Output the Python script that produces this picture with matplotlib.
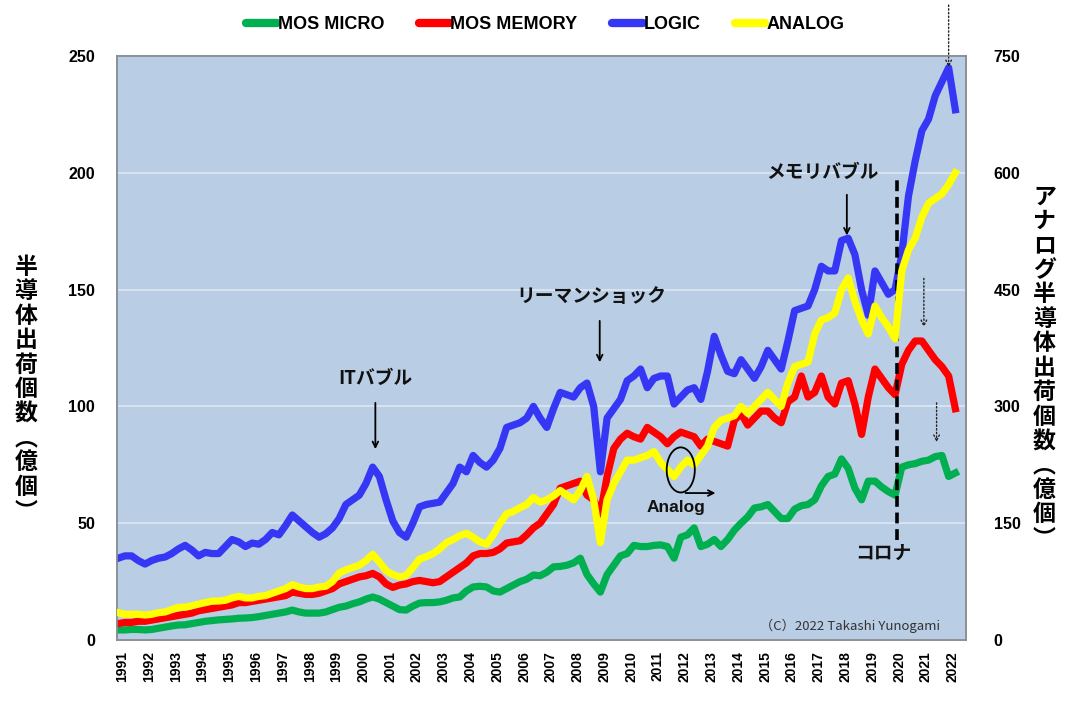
import matplotlib
matplotlib.use("Agg")
import matplotlib.pyplot as plt
from matplotlib.patches import Ellipse
from matplotlib.lines import Line2D

plt.rcParams['font.family'] = ['Liberation Sans', 'Noto Sans CJK JP', 'DejaVu Sans']

years = list(range(1991, 2023))
quarters = [f"{y}Q{q}" for y in years for q in range(1, 5)][:126]

logic = [35, 36, 36, 34, 32.5, 34, 35, 35.5, 37, 39, 40.5, 38.5, 36, 37.5, 37, 37,
         40, 43, 42, 40, 41.5, 41, 43, 46, 45, 49, 53.5, 51, 48.5, 46, 44, 45.5,
         48, 52, 58, 60, 62, 67, 74, 70, 60, 51, 46, 44, 50, 57, 58, 58.5,
         59, 63, 67, 74, 72, 79, 76, 74, 77, 82, 91, 92, 93, 95, 100, 95,
         91, 99, 106, 105, 104, 108, 110, 100, 72, 95, 99, 103, 111, 113, 116, 108,
         112, 113, 113, 101, 104, 107, 108, 103, 115, 130, 122, 115, 114, 120, 116, 112,
         117, 124, 120, 116, 128, 141, 142, 143, 150, 160, 158, 158, 171, 172, 165, 150,
         139, 158, 153, 148, 150, 165, 190, 205, 218, 223, 233, 239, 245, 227]

memory = [7, 7.5, 7.5, 8, 8, 8.5, 9, 9.5, 10, 10.5, 11, 11.5, 12.5, 13, 13.5, 14,
          14.5, 15, 16, 16, 16.5, 17, 17.5, 18, 18.5, 19, 20.5, 20, 19.5, 19.5, 20, 21,
          22, 24, 25, 26, 27, 27.5, 28.5, 27, 24, 22.5, 23.5, 24, 25, 25.5, 25, 24.5,
          25, 27, 29, 31, 33, 36, 37, 37, 37.5, 39, 41.5, 42, 42.5, 45, 48, 50,
          54, 58, 65, 66, 67, 68, 62, 60, 54, 70, 82, 86, 88.5, 87, 86, 91,
          89, 87, 84, 87, 89, 88, 87, 83, 86, 85, 84, 83, 94, 97, 92, 95,
          98, 98, 95, 93, 102, 104, 113, 104, 106, 113, 104, 101, 110, 111, 101, 88,
          104, 116, 112, 108, 105, 118, 124, 128, 128, 124, 120, 117, 113, 99]

micro = [4.3, 4.3, 4.5, 4.5, 4.3, 4.5, 5, 5.5, 6, 6.4, 6.5, 7, 7.5, 8, 8.3, 8.6,
         8.8, 9, 9.3, 9.4, 9.6, 10, 10.5, 11, 11.5, 12, 12.8, 12, 11.5, 11.5, 11.5, 12,
         13, 14, 14.5, 15.5, 16.3, 17.5, 18.4, 17.5, 16, 14.5, 13, 12.8, 14.5, 15.8, 16, 16,
         16.3, 17, 18, 18.4, 21, 22.7, 23, 22.7, 21, 20.5, 22, 23.5, 25, 26, 27.8, 27.5,
         29, 31.3, 31.5, 32, 33, 35, 28, 24, 20.5, 28, 32, 36, 37, 40.5, 40, 40,
         40.5, 40.7, 40, 35, 44, 45, 48, 40, 41, 43, 40, 43, 47, 50, 52.7, 56.5,
         57, 58, 55, 52, 52, 56, 57.5, 58, 60, 66, 70, 71, 77.5, 73.5, 65, 60,
         68, 68, 65.5, 63.5, 62, 74, 75, 75.5, 76.5, 77, 78.5, 79, 70, 71.5]

analog = [35, 33, 33, 33, 32, 33, 35, 36, 39, 42, 42, 44, 46, 48, 50, 50,
          51, 54, 56, 54, 54, 56, 57, 60, 63, 66, 71, 68, 66, 66, 68, 69,
          75, 86, 90, 93, 96, 102, 110, 100, 89, 84, 81, 83, 93, 104, 107, 111,
          117, 125, 129, 134, 137, 132, 126, 123, 135, 150, 162, 165, 170, 174, 183, 177,
          180, 185, 192, 186, 180, 192, 210, 180, 125, 180, 201, 216, 231, 231, 234, 237,
          242, 228, 219, 210, 222, 231, 225, 237, 249, 273, 282, 285, 288, 300, 291, 300,
          309, 318, 309, 300, 330, 351, 354, 357, 393, 411, 414, 420, 450, 465, 435, 411,
          393, 429, 414, 402, 387, 474, 501, 516, 543, 561, 567, 573, 585, 600]

assert len(logic) == len(memory) == len(micro) == len(analog) == len(quarters)

left_ticks = [0, 50, 100, 150, 200, 250]
right_ticks = [0, 150, 300, 450, 600, 750]

C_GREEN = '#00b050'
C_RED = '#ff0000'
C_BLUE = '#3636f5'
C_YEL = '#ffff00'
BG = '#b9cde4'

fig = plt.figure(figsize=(10.8, 7.11), dpi=100)
ax = fig.add_axes([0.1085, 0.0999, 0.7860, 0.8213])
ax.set_facecolor(BG)
ax2 = ax.twinx()
ax2.patch.set_visible(False)

x = list(range(len(quarters)))
lw = 5.2
ax.plot(x, micro, color=C_GREEN, lw=lw, solid_joinstyle='round', zorder=3)
ax.plot(x, memory, color=C_RED, lw=lw, solid_joinstyle='round', zorder=3)
ax.plot(x, logic, color=C_BLUE, lw=lw, solid_joinstyle='round', zorder=3)
ax2.plot(x, analog, color=C_YEL, lw=lw, solid_joinstyle='round', zorder=3)

ax.set_xlim(-0.15, 126.6)
ax.set_ylim(0, 250)
ax2.set_ylim(0, 750)
ax.set_yticks(left_ticks)
ax2.set_yticks(right_ticks)
ax.set_yticklabels([str(t) for t in left_ticks], fontsize=11.5, fontweight='bold')
ax2.set_yticklabels([str(t) for t in right_ticks], fontsize=11.5, fontweight='bold')
ax.tick_params(axis='y', length=0, pad=16)
ax2.tick_params(axis='y', length=0, pad=20)
ax.yaxis.grid(True, color='#dde7f3', lw=1.2)
ax.set_axisbelow(True)
ax2.grid(False)

ax.set_xticks([4 * k + 0.6 for k in range(len(years))])
ax.set_xticklabels([str(y) for y in years], rotation=90, fontsize=10, fontweight='bold')
ax.tick_params(axis='x', length=0, pad=8)

for a in (ax, ax2):
    for s in a.spines.values():
        s.set_color('#8a8f99')
        s.set_linewidth(1.2)

jp = ['Noto Sans CJK JP', 'DejaVu Sans']
left_label = "半導体出荷個数︵億個︶"
right_label = "アナログ半導体出荷個数︵億個︶"
fig.text(0.024, 0.452, "\n".join(left_label), family=jp, fontsize=16.5, fontweight='bold',
         ha='center', va='center', linespacing=1.08)
fig.text(0.967, 0.482, "\n".join(right_label), family=jp, fontsize=16.5, fontweight='bold',
         ha='center', va='center', linespacing=1.08)

# legend
handles = [Line2D([], [], color=c, lw=6, solid_capstyle='round') for c in (C_GREEN, C_RED, C_BLUE, C_YEL)]
labels = ['MOS MICRO', 'MOS MEMORY', 'LOGIC', 'ANALOG']
fig.legend(handles, labels, loc='center', bbox_to_anchor=(0.505, 0.965), ncol=4, frameon=False,
           handlelength=1.7, handletextpad=0.05, columnspacing=1.9,
           prop={'family': ['Liberation Sans Narrow', 'Liberation Sans'], 'weight': 'bold', 'size': 13})

# annotations
tk = dict(family=jp, fontsize=13.5, fontweight='bold', ha='center', va='center', color='#111111')
ax.text(38.4, 112, "ITバブル", **tk)
ax.annotate("", xy=(38.4, 80.5), xytext=(38.4, 102.7),
            arrowprops=dict(arrowstyle='->', color='black', lw=1.3))
ax.text(70.7, 147, "リーマンショック", **tk)
ax.annotate("", xy=(71.9, 117.7), xytext=(71.9, 137.8),
            arrowprops=dict(arrowstyle='->', color='black', lw=1.3))
ax.text(105.1, 200.3, "メモリバブル", **tk)
ax.annotate("", xy=(108.8, 172), xytext=(108.8, 191.8),
            arrowprops=dict(arrowstyle='->', color='black', lw=1.3))
ax.plot([116.3, 116.3], [42.8, 197], color='black', lw=2.6, ls=(0, (3, 1.6)), zorder=5)
ax.text(114.3, 37.2, "コロナ", **tk)

for (xi, y0, y1) in [(124.0, 273, 244), (120.3, 156, 132.7), (122.2, 102.7, 83.5)]:
    ax.annotate("", xy=(xi, y1), xytext=(xi, y0), annotation_clip=False,
                arrowprops=dict(arrowstyle='->', color='#222222', lw=1.0, ls=':'))

ax.text(83.3, 56.5, "Analog", family=['Liberation Sans', 'DejaVu Sans'], fontsize=12.5,
        fontweight='bold', ha='center', va='center', color='#111111', zorder=6)
ax2.add_patch(Ellipse((84.0, 72.8 * 3), 4.2, 19.3 * 3, fill=False, ec='black', lw=1.3, zorder=6))
ax2.annotate("", xy=(89.6, 62.9 * 3), xytext=(84.3, 62.9 * 3),
             arrowprops=dict(arrowstyle='->', color='black', lw=1.3))

ax.text(109.3, 6, "（C）2022 Takashi Yunogami", family=['Noto Sans CJK JP', 'DejaVu Sans'],
        fontsize=9.5, ha='center', va='center', color='#333333')

fig.savefig("out.png", dpi=100)
